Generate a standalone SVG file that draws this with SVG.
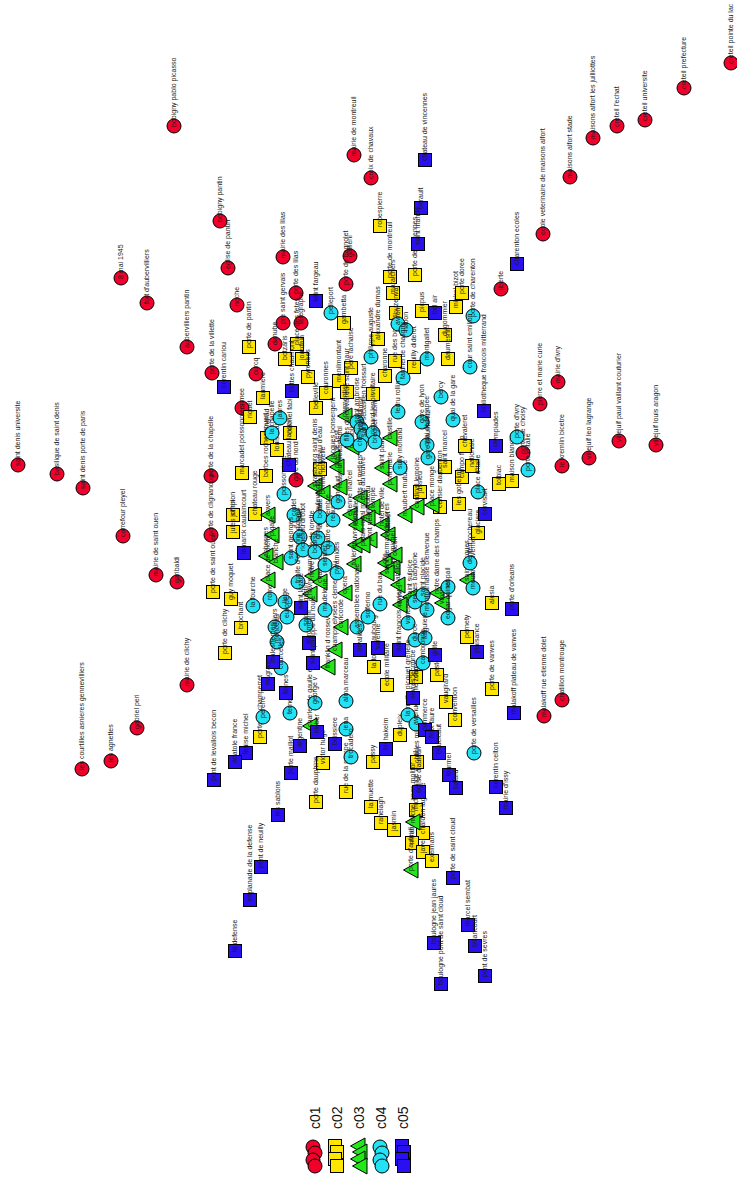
<svg xmlns="http://www.w3.org/2000/svg" xmlns:xlink="http://www.w3.org/1999/xlink" width="737" height="1182" viewBox="0 0 737 1182">
<style>
.r{fill:#f2002c}.y{fill:#ffe600}.g{fill:#22e81a}.c{fill:#22e2f4}.b{fill:#2a10f0}
use{stroke:#000;stroke-width:1}
text{fill:#1a1a1a;stroke:none;font-family:"Liberation Sans",Arial,sans-serif;font-size:7px}
.lg{font-size:14px;fill:#111}
</style>
<defs>
<circle id="C" r="7"/>
<rect id="S" x="-6.5" y="-6.5" width="13" height="13"/>
<path id="T" d="M-7.5,0L7,-8L7,8Z"/>
</defs>
<rect width="737" height="1182" fill="#fff"/>
<g id="connectors"/>
<g id="nodes">
<g id="r1" class="r" transform="translate(731,63)"><use href="#C"/><text transform="rotate(-90)" x="-1" y="2">creteil pointe du lac</text></g>
<g id="r2" class="r" transform="translate(684,88)"><use href="#C"/><text transform="rotate(-90)" x="-1" y="2">creteil prefecture</text></g>
<g id="r3" class="r" transform="translate(645,120)"><use href="#C"/><text transform="rotate(-90)" x="-1" y="2">creteil universite</text></g>
<g id="r4" class="r" transform="translate(617,126)"><use href="#C"/><text transform="rotate(-90)" x="-1" y="2">creteil l'echat</text></g>
<g id="r5" class="r" transform="translate(593,138)"><use href="#C"/><text transform="rotate(-90)" x="-1" y="2">maisons alfort les juilliottes</text></g>
<g id="r6" class="r" transform="translate(570,177)"><use href="#C"/><text transform="rotate(-90)" x="-1" y="2">maisons alfort stade</text></g>
<g id="r7" class="r" transform="translate(543,234)"><use href="#C"/><text transform="rotate(-90)" x="-1" y="2">ecole veterinaire de maisons alfort</text></g>
<g id="r8" class="r" transform="translate(501,289)"><use href="#C"/><text transform="rotate(-90)" x="-1" y="2">liberte</text></g>
<g id="r9" class="r" transform="translate(354,155)"><use href="#C"/><text transform="rotate(-90)" x="-1" y="2">mairie de montreuil</text></g>
<g id="r10" class="r" transform="translate(371,178)"><use href="#C"/><text transform="rotate(-90)" x="-1" y="2">croix de chavaux</text></g>
<g id="r11" class="r" transform="translate(174,126)"><use href="#C"/><text transform="rotate(-90)" x="-1" y="2">bobigny pablo picasso</text></g>
<g id="r12" class="r" transform="translate(220,221)"><use href="#C"/><text transform="rotate(-90)" x="-1" y="2">bobigny pantin</text></g>
<g id="r13" class="r" transform="translate(228,268)"><use href="#C"/><text transform="rotate(-90)" x="-1" y="2">eglise de pantin</text></g>
<g id="r14" class="r" transform="translate(121,278)"><use href="#C"/><text transform="rotate(-90)" x="-1" y="2">8 mai 1945</text></g>
<g id="r15" class="r" transform="translate(147,303)"><use href="#C"/><text transform="rotate(-90)" x="-1" y="2">fort d'aubervilliers</text></g>
<g id="r16" class="r" transform="translate(187,347)"><use href="#C"/><text transform="rotate(-90)" x="-1" y="2">aubervilliers pantin</text></g>
<g id="r17" class="r" transform="translate(237,305)"><use href="#C"/><text transform="rotate(-90)" x="-1" y="2">hoche</text></g>
<g id="r18" class="r" transform="translate(283,257)"><use href="#C"/><text transform="rotate(-90)" x="-1" y="2">mairie des lilas</text></g>
<g id="r19" class="r" transform="translate(296,293)"><use href="#C"/><text transform="rotate(-90)" x="-1" y="2">porte des lilas</text></g>
<g id="r20" class="r" transform="translate(283,323)"><use href="#C"/><text transform="rotate(-90)" x="-1" y="2">pre saint gervais</text></g>
<g id="r21" class="r" transform="translate(301,323)"><use href="#C"/><text transform="rotate(-90)" x="-1" y="2">telegraphe</text></g>
<g id="r22" class="r" transform="translate(350,256)"><use href="#C"/><text transform="rotate(-90)" x="-1" y="2">gallieni</text></g>
<g id="r23" class="r" transform="translate(346,284)"><use href="#C"/><text transform="rotate(-90)" x="-1" y="2">porte de bagnolet</text></g>
<g id="r24" class="r" transform="translate(275,344)"><use href="#C"/><text transform="rotate(-90)" x="-1" y="2">danube</text></g>
<g id="r25" class="r" transform="translate(212,373)"><use href="#C"/><text transform="rotate(-90)" x="-1" y="2">porte de la villette</text></g>
<g id="r26" class="r" transform="translate(256,374)"><use href="#C"/><text transform="rotate(-90)" x="-1" y="2">ourcq</text></g>
<g id="r27" class="r" transform="translate(242,408)"><use href="#C"/><text transform="rotate(-90)" x="-1" y="2">crimee</text></g>
<g id="r28" class="r" transform="translate(296,480)"><use href="#C"/><text transform="rotate(-90)" x="-1" y="2">gare du nord</text></g>
<g id="r29" class="r" transform="translate(211,476)"><use href="#C"/><text transform="rotate(-90)" x="-1" y="2">porte de la chapelle</text></g>
<g id="r30" class="r" transform="translate(211,535)"><use href="#C"/><text transform="rotate(-90)" x="-1" y="2">porte de clignancourt</text></g>
<g id="r31" class="r" transform="translate(156,575)"><use href="#C"/><text transform="rotate(-90)" x="-1" y="2">mairie de saint ouen</text></g>
<g id="r32" class="r" transform="translate(177,582)"><use href="#C"/><text transform="rotate(-90)" x="-1" y="2">garibaldi</text></g>
<g id="r33" class="r" transform="translate(123,536)"><use href="#C"/><text transform="rotate(-90)" x="-1" y="2">carrefour pleyel</text></g>
<g id="r34" class="r" transform="translate(83,488)"><use href="#C"/><text transform="rotate(-90)" x="-1" y="2">saint denis porte de paris</text></g>
<g id="r35" class="r" transform="translate(57,474)"><use href="#C"/><text transform="rotate(-90)" x="-1" y="2">basilique de saint denis</text></g>
<g id="r36" class="r" transform="translate(18,465)"><use href="#C"/><text transform="rotate(-90)" x="-1" y="2">saint denis universite</text></g>
<g id="r37" class="r" transform="translate(187,685)"><use href="#C"/><text transform="rotate(-90)" x="-1" y="2">mairie de clichy</text></g>
<g id="r38" class="r" transform="translate(137,728)"><use href="#C"/><text transform="rotate(-90)" x="-1" y="2">gabriel peri</text></g>
<g id="r39" class="r" transform="translate(111,761)"><use href="#C"/><text transform="rotate(-90)" x="-1" y="2">les agnettes</text></g>
<g id="r40" class="r" transform="translate(82,769)"><use href="#C"/><text transform="rotate(-90)" x="-1" y="2">les courtilles asnieres gennevilliers</text></g>
<g id="r41" class="r" transform="translate(544,716)"><use href="#C"/><text transform="rotate(-90)" x="-1" y="2">malakoff rue etienne dolet</text></g>
<g id="r42" class="r" transform="translate(562,700)"><use href="#C"/><text transform="rotate(-90)" x="-1" y="2">chatillon montrouge</text></g>
<g id="r43" class="r" transform="translate(523,453)"><use href="#C"/><text transform="rotate(-90)" x="-1" y="2">porte de choisy</text></g>
<g id="r44" class="r" transform="translate(540,404)"><use href="#C"/><text transform="rotate(-90)" x="-1" y="2">pierre et marie curie</text></g>
<g id="r45" class="r" transform="translate(558,382)"><use href="#C"/><text transform="rotate(-90)" x="-1" y="2">mairie d'ivry</text></g>
<g id="r46" class="r" transform="translate(562,466)"><use href="#C"/><text transform="rotate(-90)" x="-1" y="2">le kremlin bicetre</text></g>
<g id="r47" class="r" transform="translate(589,458)"><use href="#C"/><text transform="rotate(-90)" x="-1" y="2">villejuif leo lagrange</text></g>
<g id="r48" class="r" transform="translate(619,441)"><use href="#C"/><text transform="rotate(-90)" x="-1" y="2">villejuif paul vaillant couturier</text></g>
<g id="r49" class="r" transform="translate(656,445)"><use href="#C"/><text transform="rotate(-90)" x="-1" y="2">villejuif louis aragon</text></g>

<g id="y1" class="y" transform="translate(380,226)"><use href="#S"/><text transform="rotate(-90)" x="-1" y="2">robespierre</text></g>
<g id="y2" class="y" transform="translate(415,275)"><use href="#S"/><text transform="rotate(-90)" x="-1" y="2">porte de vincennes</text></g>
<g id="y3" class="y" transform="translate(390,277)"><use href="#S"/><text transform="rotate(-90)" x="-1" y="2">porte de montreuil</text></g>
<g id="y4" class="y" transform="translate(393,293)"><use href="#S"/><text transform="rotate(-90)" x="-1" y="2">maraichers</text></g>
<g id="y5" class="y" transform="translate(396,313)"><use href="#S"/><text transform="rotate(-90)" x="-1" y="2">buzenval</text></g>
<g id="y6" class="y" transform="translate(378,339)"><use href="#S"/><text transform="rotate(-90)" x="-1" y="2">alexandre dumas</text></g>
<g id="y7" class="y" transform="translate(395,361)"><use href="#S"/><text transform="rotate(-90)" x="-1" y="2">rue des boulets</text></g>
<g id="y8" class="y" transform="translate(385,376)"><use href="#S"/><text transform="rotate(-90)" x="-1" y="2">charonne</text></g>
<g id="y9" class="y" transform="translate(373,394)"><use href="#S"/><text transform="rotate(-90)" x="-1" y="2">voltaire</text></g>
<g id="y10" class="y" transform="translate(414,367)"><use href="#S"/><text transform="rotate(-90)" x="-1" y="2">reuilly diderot</text></g>
<g id="y11" class="y" transform="translate(422,311)"><use href="#S"/><text transform="rotate(-90)" x="-1" y="2">picpus</text></g>
<g id="y12" class="y" transform="translate(445,335)"><use href="#S"/><text transform="rotate(-90)" x="-1" y="2">dugommier</text></g>
<g id="y13" class="y" transform="translate(448,359)"><use href="#S"/><text transform="rotate(-90)" x="-1" y="2">daumesnil</text></g>
<g id="y14" class="y" transform="translate(456,307)"><use href="#S"/><text transform="rotate(-90)" x="-1" y="2">michel bizot</text></g>
<g id="y15" class="y" transform="translate(462,293)"><use href="#S"/><text transform="rotate(-90)" x="-1" y="2">porte doree</text></g>
<g id="y16" class="y" transform="translate(344,323)"><use href="#S"/><text transform="rotate(-90)" x="-1" y="2">gambetta</text></g>
<g id="y17" class="y" transform="translate(249,347)"><use href="#S"/><text transform="rotate(-90)" x="-1" y="2">porte de pantin</text></g>
<g id="y18" class="y" transform="translate(285,359)"><use href="#S"/><text transform="rotate(-90)" x="-1" y="2">botzaris</text></g>
<g id="y19" class="y" transform="translate(297,344)"><use href="#S"/><text transform="rotate(-90)" x="-1" y="2">place des fetes</text></g>
<g id="y20" class="y" transform="translate(302,359)"><use href="#S"/><text transform="rotate(-90)" x="-1" y="2">jourdain</text></g>
<g id="y21" class="y" transform="translate(308,377)"><use href="#S"/><text transform="rotate(-90)" x="-1" y="2">pyrenees</text></g>
<g id="y22" class="y" transform="translate(263,398)"><use href="#S"/><text transform="rotate(-90)" x="-1" y="2">laumiere</text></g>
<g id="y23" class="y" transform="translate(326,393)"><use href="#S"/><text transform="rotate(-90)" x="-1" y="2">couronnes</text></g>
<g id="y24" class="y" transform="translate(339,381)"><use href="#S"/><text transform="rotate(-90)" x="-1" y="2">menilmontant</text></g>
<g id="y25" class="y" transform="translate(351,368)"><use href="#S"/><text transform="rotate(-90)" x="-1" y="2">pere lachaise</text></g>
<g id="y26" class="y" transform="translate(347,392)"><use href="#S"/><text transform="rotate(-90)" x="-1" y="2">rue saint maur</text></g>
<g id="y27" class="y" transform="translate(316,408)"><use href="#S"/><text transform="rotate(-90)" x="-1" y="2">belleville</text></g>
<g id="y28" class="y" transform="translate(250,417)"><use href="#S"/><text transform="rotate(-90)" x="-1" y="2">riquet</text></g>
<g id="y29" class="y" transform="translate(267,438)"><use href="#S"/><text transform="rotate(-90)" x="-1" y="2">stalingrad</text></g>
<g id="y30" class="y" transform="translate(290,433)"><use href="#S"/><text transform="rotate(-90)" x="-1" y="2">colonel fabien</text></g>
<g id="y31" class="y" transform="translate(277,450)"><use href="#S"/><text transform="rotate(-90)" x="-1" y="2">louis blanc</text></g>
<g id="y32" class="y" transform="translate(320,469)"><use href="#S"/><text transform="rotate(-90)" x="-1" y="2">chateau d'eau</text></g>
<g id="y33" class="y" transform="translate(242,473)"><use href="#S"/><text transform="rotate(-90)" x="-1" y="2">marcadet poissonniers</text></g>
<g id="y34" class="y" transform="translate(266,476)"><use href="#S"/><text transform="rotate(-90)" x="-1" y="2">barbes rochechouart</text></g>
<g id="y35" class="y" transform="translate(233,515)"><use href="#S"/><text transform="rotate(-90)" x="-1" y="2">simplon</text></g>
<g id="y36" class="y" transform="translate(233,532)"><use href="#S"/><text transform="rotate(-90)" x="-1" y="2">jules joffrin</text></g>
<g id="y37" class="y" transform="translate(255,514)"><use href="#S"/><text transform="rotate(-90)" x="-1" y="2">chateau rouge</text></g>
<g id="y38" class="y" transform="translate(213,592)"><use href="#S"/><text transform="rotate(-90)" x="-1" y="2">porte de saint ouen</text></g>
<g id="y39" class="y" transform="translate(231,599)"><use href="#S"/><text transform="rotate(-90)" x="-1" y="2">guy moquet</text></g>
<g id="y40" class="y" transform="translate(241,628)"><use href="#S"/><text transform="rotate(-90)" x="-1" y="2">brochant</text></g>
<g id="y41" class="y" transform="translate(225,653)"><use href="#S"/><text transform="rotate(-90)" x="-1" y="2">porte de clichy</text></g>
<g id="y42" class="y" transform="translate(260,737)"><use href="#S"/><text transform="rotate(-90)" x="-1" y="2">porte de champerret</text></g>
<g id="y43" class="y" transform="translate(323,763)"><use href="#S"/><text transform="rotate(-90)" x="-1" y="2">victor hugo</text></g>
<g id="y44" class="y" transform="translate(316,802)"><use href="#S"/><text transform="rotate(-90)" x="-1" y="2">porte dauphine</text></g>
<g id="y45" class="y" transform="translate(346,792)"><use href="#S"/><text transform="rotate(-90)" x="-1" y="2">rue de la pompe</text></g>
<g id="y46" class="y" transform="translate(371,807)"><use href="#S"/><text transform="rotate(-90)" x="-1" y="2">la muette</text></g>
<g id="y47" class="y" transform="translate(381,823)"><use href="#S"/><text transform="rotate(-90)" x="-1" y="2">ranelagh</text></g>
<g id="y48" class="y" transform="translate(394,830)"><use href="#S"/><text transform="rotate(-90)" x="-1" y="2">jasmin</text></g>
<g id="y49" class="y" transform="translate(416,810)"><use href="#S"/><text transform="rotate(-90)" x="-1" y="2">michel ange auteuil</text></g>
<g id="y50" class="y" transform="translate(423,833)"><use href="#S"/><text transform="rotate(-90)" x="-1" y="2">chardon lagache</text></g>
<g id="y51" class="y" transform="translate(412,843)"><use href="#S"/><text transform="rotate(-90)" x="-1" y="2">mirabeau</text></g>
<g id="y52" class="y" transform="translate(423,852)"><use href="#S"/><text transform="rotate(-90)" x="-1" y="2">javel</text></g>
<g id="y53" class="y" transform="translate(432,861)"><use href="#S"/><text transform="rotate(-90)" x="-1" y="2">exelmans</text></g>
<g id="y54" class="y" transform="translate(373,762)"><use href="#S"/><text transform="rotate(-90)" x="-1" y="2">passy</text></g>
<g id="y55" class="y" transform="translate(400,735)"><use href="#S"/><text transform="rotate(-90)" x="-1" y="2">dupleix</text></g>
<g id="y56" class="y" transform="translate(417,762)"><use href="#S"/><text transform="rotate(-90)" x="-1" y="2">charles michels</text></g>
<g id="y57" class="y" transform="translate(374,667)"><use href="#S"/><text transform="rotate(-90)" x="-1" y="2">la tour maubourg</text></g>
<g id="y58" class="y" transform="translate(387,685)"><use href="#S"/><text transform="rotate(-90)" x="-1" y="2">ecole militaire</text></g>
<g id="y59" class="y" transform="translate(416,677)"><use href="#S"/><text transform="rotate(-90)" x="-1" y="2">segur</text></g>
<g id="y60" class="y" transform="translate(437,675)"><use href="#S"/><text transform="rotate(-90)" x="-1" y="2">pasteur</text></g>
<g id="y61" class="y" transform="translate(446,702)"><use href="#S"/><text transform="rotate(-90)" x="-1" y="2">vaugirard</text></g>
<g id="y62" class="y" transform="translate(455,720)"><use href="#S"/><text transform="rotate(-90)" x="-1" y="2">convention</text></g>
<g id="y63" class="y" transform="translate(467,637)"><use href="#S"/><text transform="rotate(-90)" x="-1" y="2">pernety</text></g>
<g id="y64" class="y" transform="translate(492,603)"><use href="#S"/><text transform="rotate(-90)" x="-1" y="2">alesia</text></g>
<g id="y65" class="y" transform="translate(492,689)"><use href="#S"/><text transform="rotate(-90)" x="-1" y="2">porte de vanves</text></g>
<g id="y66" class="y" transform="translate(478,533)"><use href="#S"/><text transform="rotate(-90)" x="-1" y="2">glaciere</text></g>
<g id="y67" class="y" transform="translate(445,467)"><use href="#S"/><text transform="rotate(-90)" x="-1" y="2">saint marcel</text></g>
<g id="y68" class="y" transform="translate(462,477)"><use href="#S"/><text transform="rotate(-90)" x="-1" y="2">campo formio</text></g>
<g id="y69" class="y" transform="translate(465,446)"><use href="#S"/><text transform="rotate(-90)" x="-1" y="2">chevaleret</text></g>
<g id="y70" class="y" transform="translate(472,466)"><use href="#S"/><text transform="rotate(-90)" x="-1" y="2">nationale</text></g>
<g id="y71" class="y" transform="translate(499,484)"><use href="#S"/><text transform="rotate(-90)" x="-1" y="2">tolbiac</text></g>
<g id="y72" class="y" transform="translate(512,481)"><use href="#S"/><text transform="rotate(-90)" x="-1" y="2">maison blanche</text></g>
<g id="y73" class="y" transform="translate(420,492)"><use href="#S"/><text transform="rotate(-90)" x="-1" y="2">jussieu</text></g>
<g id="y74" class="y" transform="translate(440,507)"><use href="#S"/><text transform="rotate(-90)" x="-1" y="2">censier daubenton</text></g>
<g id="y75" class="y" transform="translate(459,504)"><use href="#S"/><text transform="rotate(-90)" x="-1" y="2">les gobelins</text></g>

<g id="g1" class="g" transform="translate(268,515)"><use href="#T"/><text transform="rotate(-90)" x="-1" y="2">anvers</text></g>
<g id="g2" class="g" transform="translate(272,535)"><use href="#T"/><text transform="rotate(-90)" x="-1" y="2">pigalle</text></g>
<g id="g3" class="g" transform="translate(266,556)"><use href="#T"/><text transform="rotate(-90)" x="-1" y="2">abbesses</text></g>
<g id="g4" class="g" transform="translate(276,562)"><use href="#T"/><text transform="rotate(-90)" x="-1" y="2">blanche</text></g>
<g id="g5" class="g" transform="translate(268,580)"><use href="#T"/><text transform="rotate(-90)" x="-1" y="2">place de clichy</text></g>
<g id="g6" class="g" transform="translate(312,576)"><use href="#T"/><text transform="rotate(-90)" x="-1" y="2">notre dame de lorette</text></g>
<g id="g7" class="g" transform="translate(320,582)"><use href="#T"/><text transform="rotate(-90)" x="-1" y="2">chaussee d'antin lafayette</text></g>
<g id="g8" class="g" transform="translate(310,594)"><use href="#T"/><text transform="rotate(-90)" x="-1" y="2">havre caumartin</text></g>
<g id="g9" class="g" transform="translate(345,593)"><use href="#T"/><text transform="rotate(-90)" x="-1" y="2">opera</text></g>
<g id="g10" class="g" transform="translate(341,627)"><use href="#T"/><text transform="rotate(-90)" x="-1" y="2">concorde</text></g>
<g id="g11" class="g" transform="translate(335,650)"><use href="#T"/><text transform="rotate(-90)" x="-1" y="2">champs elysees clemenceau</text></g>
<g id="g12" class="g" transform="translate(328,667)"><use href="#T"/><text transform="rotate(-90)" x="-1" y="2">franklin d roosevelt</text></g>
<g id="g13" class="g" transform="translate(310,726)"><use href="#T"/><text transform="rotate(-90)" x="-1" y="2">charles de gaulle etoile</text></g>
<g id="g14" class="g" transform="translate(345,416)"><use href="#T"/><text transform="rotate(-90)" x="-1" y="2">parmentier</text></g>
<g id="g15" class="g" transform="translate(352,447)"><use href="#T"/><text transform="rotate(-90)" x="-1" y="2">republique</text></g>
<g id="g16" class="g" transform="translate(333,458)"><use href="#T"/><text transform="rotate(-90)" x="-1" y="2">jacques bonsergent</text></g>
<g id="g17" class="g" transform="translate(337,467)"><use href="#T"/><text transform="rotate(-90)" x="-1" y="2">gare de l'est</text></g>
<g id="g18" class="g" transform="translate(315,486)"><use href="#T"/><text transform="rotate(-90)" x="-1" y="2">strasbourg saint denis</text></g>
<g id="g19" class="g" transform="translate(323,493)"><use href="#T"/><text transform="rotate(-90)" x="-1" y="2">bonne nouvelle</text></g>
<g id="g20" class="g" transform="translate(340,487)"><use href="#T"/><text transform="rotate(-90)" x="-1" y="2">reaumur sebastopol</text></g>
<g id="g21" class="g" transform="translate(360,498)"><use href="#T"/><text transform="rotate(-90)" x="-1" y="2">arts et metiers</text></g>
<g id="g22" class="g" transform="translate(373,507)"><use href="#T"/><text transform="rotate(-90)" x="-1" y="2">temple</text></g>
<g id="g23" class="g" transform="translate(350,515)"><use href="#T"/><text transform="rotate(-90)" x="-1" y="2">etienne marcel</text></g>
<g id="g24" class="g" transform="translate(356,525)"><use href="#T"/><text transform="rotate(-90)" x="-1" y="2">les halles</text></g>
<g id="g25" class="g" transform="translate(368,518)"><use href="#T"/><text transform="rotate(-90)" x="-1" y="2">rambuteau</text></g>
<g id="g26" class="g" transform="translate(382,525)"><use href="#T"/><text transform="rotate(-90)" x="-1" y="2">hotel de ville</text></g>
<g id="g27" class="g" transform="translate(388,535)"><use href="#T"/><text transform="rotate(-90)" x="-1" y="2">chatelet</text></g>
<g id="g28" class="g" transform="translate(370,540)"><use href="#T"/><text transform="rotate(-90)" x="-1" y="2">pont neuf</text></g>
<g id="g29" class="g" transform="translate(355,545)"><use href="#T"/><text transform="rotate(-90)" x="-1" y="2">louvre rivoli</text></g>
<g id="g30" class="g" transform="translate(363,545)"><use href="#T"/><text transform="rotate(-90)" x="-1" y="2">palais royal musee du louvre</text></g>
<g id="g31" class="g" transform="translate(354,564)"><use href="#T"/><text transform="rotate(-90)" x="-1" y="2">tuileries</text></g>
<g id="g32" class="g" transform="translate(385,563)"><use href="#T"/><text transform="rotate(-90)" x="-1" y="2">cite</text></g>
<g id="g33" class="g" transform="translate(393,567)"><use href="#T"/><text transform="rotate(-90)" x="-1" y="2">saint michel</text></g>
<g id="g34" class="g" transform="translate(395,555)"><use href="#T"/><text transform="rotate(-90)" x="-1" y="2">odeon</text></g>
<g id="g35" class="g" transform="translate(387,573)"><use href="#T"/><text transform="rotate(-90)" x="-1" y="2">saint germain des pres</text></g>
<g id="g36" class="g" transform="translate(398,585)"><use href="#T"/><text transform="rotate(-90)" x="-1" y="2">mabillon</text></g>
<g id="g37" class="g" transform="translate(410,597)"><use href="#T"/><text transform="rotate(-90)" x="-1" y="2">saint sulpice</text></g>
<g id="g38" class="g" transform="translate(400,605)"><use href="#T"/><text transform="rotate(-90)" x="-1" y="2">rennes</text></g>
<g id="g39" class="g" transform="translate(437,593)"><use href="#T"/><text transform="rotate(-90)" x="-1" y="2">notre dame des champs</text></g>
<g id="g40" class="g" transform="translate(442,603)"><use href="#T"/><text transform="rotate(-90)" x="-1" y="2">vavin</text></g>
<g id="g41" class="g" transform="translate(467,580)"><use href="#T"/><text transform="rotate(-90)" x="-1" y="2">saint jacques</text></g>
<g id="g42" class="g" transform="translate(390,438)"><use href="#T"/><text transform="rotate(-90)" x="-1" y="2">bastille</text></g>
<g id="g43" class="g" transform="translate(382,468)"><use href="#T"/><text transform="rotate(-90)" x="-1" y="2">saint paul</text></g>
<g id="g44" class="g" transform="translate(390,484)"><use href="#T"/><text transform="rotate(-90)" x="-1" y="2">pont marie</text></g>
<g id="g45" class="g" transform="translate(405,515)"><use href="#T"/><text transform="rotate(-90)" x="-1" y="2">maubert mutualite</text></g>
<g id="g46" class="g" transform="translate(417,507)"><use href="#T"/><text transform="rotate(-90)" x="-1" y="2">cardinal lemoine</text></g>
<g id="g47" class="g" transform="translate(432,505)"><use href="#T"/><text transform="rotate(-90)" x="-1" y="2">place monge</text></g>
<g id="g48" class="g" transform="translate(413,822)"><use href="#T"/><text transform="rotate(-90)" x="-1" y="2">michel ange molitor</text></g>
<g id="g49" class="g" transform="translate(411,870)"><use href="#T"/><text transform="rotate(-90)" x="-1" y="2">porte d'auteuil</text></g>

<g id="c1" class="c" transform="translate(331,313)"><use href="#C"/><text transform="rotate(-90)" x="-1" y="2">pelleport</text></g>
<g id="c2" class="c" transform="translate(371,357)"><use href="#C"/><text transform="rotate(-90)" x="-1" y="2">philippe auguste</text></g>
<g id="c3" class="c" transform="translate(398,324)"><use href="#C"/><text transform="rotate(-90)" x="-1" y="2">avron</text></g>
<g id="c4" class="c" transform="translate(406,330)"><use href="#C"/><text transform="rotate(-90)" x="-1" y="2">nation</text></g>
<g id="c5" class="c" transform="translate(403,378)"><use href="#C"/><text transform="rotate(-90)" x="-1" y="2">faidherbe chaligny</text></g>
<g id="c6" class="c" transform="translate(427,359)"><use href="#C"/><text transform="rotate(-90)" x="-1" y="2">montgallet</text></g>
<g id="c7" class="c" transform="translate(473,316)"><use href="#C"/><text transform="rotate(-90)" x="-1" y="2">porte de charenton</text></g>
<g id="c8" class="c" transform="translate(470,367)"><use href="#C"/><text transform="rotate(-90)" x="-1" y="2">cour saint emilion</text></g>
<g id="c9" class="c" transform="translate(441,397)"><use href="#C"/><text transform="rotate(-90)" x="-1" y="2">bercy</text></g>
<g id="c10" class="c" transform="translate(398,412)"><use href="#C"/><text transform="rotate(-90)" x="-1" y="2">ledru rollin</text></g>
<g id="c11" class="c" transform="translate(422,422)"><use href="#C"/><text transform="rotate(-90)" x="-1" y="2">gare de lyon</text></g>
<g id="c12" class="c" transform="translate(453,420)"><use href="#C"/><text transform="rotate(-90)" x="-1" y="2">quai de la gare</text></g>
<g id="c13" class="c" transform="translate(517,437)"><use href="#C"/><text transform="rotate(-90)" x="-1" y="2">porte d'ivry</text></g>
<g id="c14" class="c" transform="translate(528,470)"><use href="#C"/><text transform="rotate(-90)" x="-1" y="2">porte d'italie</text></g>
<g id="c15" class="c" transform="translate(427,445)"><use href="#C"/><text transform="rotate(-90)" x="-1" y="2">quai de la rapee</text></g>
<g id="c16" class="c" transform="translate(428,458)"><use href="#C"/><text transform="rotate(-90)" x="-1" y="2">gare d'austerlitz</text></g>
<g id="c17" class="c" transform="translate(400,468)"><use href="#C"/><text transform="rotate(-90)" x="-1" y="2">sully morland</text></g>
<g id="c18" class="c" transform="translate(478,492)"><use href="#C"/><text transform="rotate(-90)" x="-1" y="2">place d'italie</text></g>
<g id="c19" class="c" transform="translate(280,418)"><use href="#C"/><text transform="rotate(-90)" x="-1" y="2">jaures</text></g>
<g id="c20" class="c" transform="translate(272,433)"><use href="#C"/><text transform="rotate(-90)" x="-1" y="2">la chapelle</text></g>
<g id="c21" class="c" transform="translate(357,422)"><use href="#C"/><text transform="rotate(-90)" x="-1" y="2">saint ambroise</text></g>
<g id="c22" class="c" transform="translate(361,429)"><use href="#C"/><text transform="rotate(-90)" x="-1" y="2">oberkampf</text></g>
<g id="c23" class="c" transform="translate(364,436)"><use href="#C"/><text transform="rotate(-90)" x="-1" y="2">saint sebastien froissart</text></g>
<g id="c24" class="c" transform="translate(347,440)"><use href="#C"/><text transform="rotate(-90)" x="-1" y="2">filles du calvaire</text></g>
<g id="c25" class="c" transform="translate(360,445)"><use href="#C"/><text transform="rotate(-90)" x="-1" y="2">chemin vert</text></g>
<g id="c26" class="c" transform="translate(373,433)"><use href="#C"/><text transform="rotate(-90)" x="-1" y="2">richard lenoir</text></g>
<g id="c27" class="c" transform="translate(375,442)"><use href="#C"/><text transform="rotate(-90)" x="-1" y="2">breguet sabin</text></g>
<g id="c28" class="c" transform="translate(284,494)"><use href="#C"/><text transform="rotate(-90)" x="-1" y="2">poissonniere</text></g>
<g id="c29" class="c" transform="translate(294,515)"><use href="#C"/><text transform="rotate(-90)" x="-1" y="2">cadet</text></g>
<g id="c30" class="c" transform="translate(300,537)"><use href="#C"/><text transform="rotate(-90)" x="-1" y="2">le peletier</text></g>
<g id="c31" class="c" transform="translate(291,558)"><use href="#C"/><text transform="rotate(-90)" x="-1" y="2">saint georges</text></g>
<g id="c32" class="c" transform="translate(298,582)"><use href="#C"/><text transform="rotate(-90)" x="-1" y="2">trinite d'estienne d'orves</text></g>
<g id="c33" class="c" transform="translate(318,538)"><use href="#C"/><text transform="rotate(-90)" x="-1" y="2">grands boulevards</text></g>
<g id="c34" class="c" transform="translate(303,550)"><use href="#C"/><text transform="rotate(-90)" x="-1" y="2">richelieu drouot</text></g>
<g id="c35" class="c" transform="translate(315,552)"><use href="#C"/><text transform="rotate(-90)" x="-1" y="2">bourse</text></g>
<g id="c36" class="c" transform="translate(328,548)"><use href="#C"/><text transform="rotate(-90)" x="-1" y="2">quatre septembre</text></g>
<g id="c37" class="c" transform="translate(325,565)"><use href="#C"/><text transform="rotate(-90)" x="-1" y="2">sentier</text></g>
<g id="c38" class="c" transform="translate(337,573)"><use href="#C"/><text transform="rotate(-90)" x="-1" y="2">pyramides</text></g>
<g id="c39" class="c" transform="translate(320,517)"><use href="#C"/><text transform="rotate(-90)" x="-1" y="2">bonne nouvelle</text></g>
<g id="c40" class="c" transform="translate(333,520)"><use href="#C"/><text transform="rotate(-90)" x="-1" y="2">reaumur</text></g>
<g id="c41" class="c" transform="translate(338,502)"><use href="#C"/><text transform="rotate(-90)" x="-1" y="2">goncourt</text></g>
<g id="c42" class="c" transform="translate(253,606)"><use href="#C"/><text transform="rotate(-90)" x="-1" y="2">la fourche</text></g>
<g id="c43" class="c" transform="translate(270,599)"><use href="#C"/><text transform="rotate(-90)" x="-1" y="2">rome</text></g>
<g id="c44" class="c" transform="translate(285,602)"><use href="#C"/><text transform="rotate(-90)" x="-1" y="2">liege</text></g>
<g id="c45" class="c" transform="translate(287,617)"><use href="#C"/><text transform="rotate(-90)" x="-1" y="2">europe</text></g>
<g id="c46" class="c" transform="translate(275,627)"><use href="#C"/><text transform="rotate(-90)" x="-1" y="2">villiers</text></g>
<g id="c47" class="c" transform="translate(277,642)"><use href="#C"/><text transform="rotate(-90)" x="-1" y="2">monceau</text></g>
<g id="c48" class="c" transform="translate(306,625)"><use href="#C"/><text transform="rotate(-90)" x="-1" y="2">saint augustin</text></g>
<g id="c49" class="c" transform="translate(325,610)"><use href="#C"/><text transform="rotate(-90)" x="-1" y="2">madeleine</text></g>
<g id="c50" class="c" transform="translate(281,668)"><use href="#C"/><text transform="rotate(-90)" x="-1" y="2">courcelles</text></g>
<g id="c51" class="c" transform="translate(315,703)"><use href="#C"/><text transform="rotate(-90)" x="-1" y="2">george v</text></g>
<g id="c52" class="c" transform="translate(290,713)"><use href="#C"/><text transform="rotate(-90)" x="-1" y="2">ternes</text></g>
<g id="c53" class="c" transform="translate(263,717)"><use href="#C"/><text transform="rotate(-90)" x="-1" y="2">pereire</text></g>
<g id="c54" class="c" transform="translate(346,701)"><use href="#C"/><text transform="rotate(-90)" x="-1" y="2">alma marceau</text></g>
<g id="c55" class="c" transform="translate(346,729)"><use href="#C"/><text transform="rotate(-90)" x="-1" y="2">iena</text></g>
<g id="c56" class="c" transform="translate(351,757)"><use href="#C"/><text transform="rotate(-90)" x="-1" y="2">trocadero</text></g>
<g id="c57" class="c" transform="translate(357,627)"><use href="#C"/><text transform="rotate(-90)" x="-1" y="2">assemblee nationale</text></g>
<g id="c58" class="c" transform="translate(368,617)"><use href="#C"/><text transform="rotate(-90)" x="-1" y="2">solferino</text></g>
<g id="c59" class="c" transform="translate(380,604)"><use href="#C"/><text transform="rotate(-90)" x="-1" y="2">rue du bac</text></g>
<g id="c60" class="c" transform="translate(408,623)"><use href="#C"/><text transform="rotate(-90)" x="-1" y="2">vaneau</text></g>
<g id="c61" class="c" transform="translate(415,602)"><use href="#C"/><text transform="rotate(-90)" x="-1" y="2">sevres babylone</text></g>
<g id="c62" class="c" transform="translate(423,595)"><use href="#C"/><text transform="rotate(-90)" x="-1" y="2">saint placide</text></g>
<g id="c63" class="c" transform="translate(427,610)"><use href="#C"/><text transform="rotate(-90)" x="-1" y="2">montparnasse bienvenue</text></g>
<g id="c64" class="c" transform="translate(448,587)"><use href="#C"/><text transform="rotate(-90)" x="-1" y="2">raspail</text></g>
<g id="c65" class="c" transform="translate(448,618)"><use href="#C"/><text transform="rotate(-90)" x="-1" y="2">edgar quinet</text></g>
<g id="c66" class="c" transform="translate(473,588)"><use href="#C"/><text transform="rotate(-90)" x="-1" y="2">mouton duvernet</text></g>
<g id="c67" class="c" transform="translate(470,563)"><use href="#C"/><text transform="rotate(-90)" x="-1" y="2">denfert rochereau</text></g>
<g id="c68" class="c" transform="translate(415,640)"><use href="#C"/><text transform="rotate(-90)" x="-1" y="2">duroc</text></g>
<g id="c69" class="c" transform="translate(425,638)"><use href="#C"/><text transform="rotate(-90)" x="-1" y="2">falguiere</text></g>
<g id="c70" class="c" transform="translate(423,663)"><use href="#C"/><text transform="rotate(-90)" x="-1" y="2">cambronne</text></g>
<g id="c71" class="c" transform="translate(408,715)"><use href="#C"/><text transform="rotate(-90)" x="-1" y="2">la motte picquet grenelle</text></g>
<g id="c72" class="c" transform="translate(416,724)"><use href="#C"/><text transform="rotate(-90)" x="-1" y="2">avenue emile zola</text></g>
<g id="c73" class="c" transform="translate(474,753)"><use href="#C"/><text transform="rotate(-90)" x="-1" y="2">porte de versailles</text></g>

<g id="b1" class="b" transform="translate(425,160)"><use href="#S"/><text transform="rotate(-90)" x="-1" y="2">chateau de vincennes</text></g>
<g id="b2" class="b" transform="translate(421,208)"><use href="#S"/><text transform="rotate(-90)" x="-1" y="2">berault</text></g>
<g id="b3" class="b" transform="translate(418,244)"><use href="#S"/><text transform="rotate(-90)" x="-1" y="2">saint mande</text></g>
<g id="b4" class="b" transform="translate(517,264)"><use href="#S"/><text transform="rotate(-90)" x="-1" y="2">charenton ecoles</text></g>
<g id="b5" class="b" transform="translate(435,313)"><use href="#S"/><text transform="rotate(-90)" x="-1" y="2">bel air</text></g>
<g id="b6" class="b" transform="translate(316,301)"><use href="#S"/><text transform="rotate(-90)" x="-1" y="2">saint fargeau</text></g>
<g id="b7" class="b" transform="translate(224,387)"><use href="#S"/><text transform="rotate(-90)" x="-1" y="2">corentin cariou</text></g>
<g id="b8" class="b" transform="translate(292,391)"><use href="#S"/><text transform="rotate(-90)" x="-1" y="2">buttes chaumont</text></g>
<g id="b9" class="b" transform="translate(289,465)"><use href="#S"/><text transform="rotate(-90)" x="-1" y="2">chateau landon</text></g>
<g id="b10" class="b" transform="translate(484,411)"><use href="#S"/><text transform="rotate(-90)" x="-1" y="2">bibliotheque francois mitterrand</text></g>
<g id="b11" class="b" transform="translate(496,446)"><use href="#S"/><text transform="rotate(-90)" x="-1" y="2">olympiades</text></g>
<g id="b12" class="b" transform="translate(485,514)"><use href="#S"/><text transform="rotate(-90)" x="-1" y="2">corvisart</text></g>
<g id="b13" class="b" transform="translate(512,609)"><use href="#S"/><text transform="rotate(-90)" x="-1" y="2">porte d'orleans</text></g>
<g id="b14" class="b" transform="translate(514,713)"><use href="#S"/><text transform="rotate(-90)" x="-1" y="2">malakoff plateau de vanves</text></g>
<g id="b15" class="b" transform="translate(477,652)"><use href="#S"/><text transform="rotate(-90)" x="-1" y="2">plaisance</text></g>
<g id="b16" class="b" transform="translate(435,655)"><use href="#S"/><text transform="rotate(-90)" x="-1" y="2">gaite</text></g>
<g id="b17" class="b" transform="translate(360,650)"><use href="#S"/><text transform="rotate(-90)" x="-1" y="2">invalides</text></g>
<g id="b18" class="b" transform="translate(378,648)"><use href="#S"/><text transform="rotate(-90)" x="-1" y="2">varenne</text></g>
<g id="b19" class="b" transform="translate(399,650)"><use href="#S"/><text transform="rotate(-90)" x="-1" y="2">saint francois xavier</text></g>
<g id="b20" class="b" transform="translate(413,698)"><use href="#S"/><text transform="rotate(-90)" x="-1" y="2">sevres lecourbe</text></g>
<g id="b21" class="b" transform="translate(425,730)"><use href="#S"/><text transform="rotate(-90)" x="-1" y="2">commerce</text></g>
<g id="b22" class="b" transform="translate(432,737)"><use href="#S"/><text transform="rotate(-90)" x="-1" y="2">felix faure</text></g>
<g id="b23" class="b" transform="translate(386,749)"><use href="#S"/><text transform="rotate(-90)" x="-1" y="2">bir hakeim</text></g>
<g id="b24" class="b" transform="translate(439,753)"><use href="#S"/><text transform="rotate(-90)" x="-1" y="2">boucicaut</text></g>
<g id="b25" class="b" transform="translate(449,775)"><use href="#S"/><text transform="rotate(-90)" x="-1" y="2">lourmel</text></g>
<g id="b26" class="b" transform="translate(456,788)"><use href="#S"/><text transform="rotate(-90)" x="-1" y="2">balard</text></g>
<g id="b27" class="b" transform="translate(496,787)"><use href="#S"/><text transform="rotate(-90)" x="-1" y="2">corentin celton</text></g>
<g id="b28" class="b" transform="translate(506,808)"><use href="#S"/><text transform="rotate(-90)" x="-1" y="2">mairie d'issy</text></g>
<g id="b29" class="b" transform="translate(419,792)"><use href="#S"/><text transform="rotate(-90)" x="-1" y="2">eglise d'auteuil</text></g>
<g id="b30" class="b" transform="translate(453,878)"><use href="#S"/><text transform="rotate(-90)" x="-1" y="2">porte de saint cloud</text></g>
<g id="b31" class="b" transform="translate(468,925)"><use href="#S"/><text transform="rotate(-90)" x="-1" y="2">marcel sembat</text></g>
<g id="b32" class="b" transform="translate(475,946)"><use href="#S"/><text transform="rotate(-90)" x="-1" y="2">billancourt</text></g>
<g id="b33" class="b" transform="translate(485,976)"><use href="#S"/><text transform="rotate(-90)" x="-1" y="2">pont de sevres</text></g>
<g id="b34" class="b" transform="translate(434,943)"><use href="#S"/><text transform="rotate(-90)" x="-1" y="2">boulogne jean jaures</text></g>
<g id="b35" class="b" transform="translate(441,984)"><use href="#S"/><text transform="rotate(-90)" x="-1" y="2">boulogne pont de saint cloud</text></g>
<g id="b36" class="b" transform="translate(244,553)"><use href="#S"/><text transform="rotate(-90)" x="-1" y="2">lamarck caulaincourt</text></g>
<g id="b37" class="b" transform="translate(301,608)"><use href="#S"/><text transform="rotate(-90)" x="-1" y="2">saint lazare</text></g>
<g id="b38" class="b" transform="translate(309,643)"><use href="#S"/><text transform="rotate(-90)" x="-1" y="2">miromesnil</text></g>
<g id="b39" class="b" transform="translate(313,663)"><use href="#S"/><text transform="rotate(-90)" x="-1" y="2">saint philippe du roule</text></g>
<g id="b40" class="b" transform="translate(273,662)"><use href="#S"/><text transform="rotate(-90)" x="-1" y="2">malesherbes</text></g>
<g id="b41" class="b" transform="translate(268,684)"><use href="#S"/><text transform="rotate(-90)" x="-1" y="2">wagram</text></g>
<g id="b42" class="b" transform="translate(286,693)"><use href="#S"/><text transform="rotate(-90)" x="-1" y="2">ternes</text></g>
<g id="b43" class="b" transform="translate(317,732)"><use href="#S"/><text transform="rotate(-90)" x="-1" y="2">kleber</text></g>
<g id="b44" class="b" transform="translate(300,746)"><use href="#S"/><text transform="rotate(-90)" x="-1" y="2">argentine</text></g>
<g id="b45" class="b" transform="translate(335,744)"><use href="#S"/><text transform="rotate(-90)" x="-1" y="2">boissiere</text></g>
<g id="b46" class="b" transform="translate(291,773)"><use href="#S"/><text transform="rotate(-90)" x="-1" y="2">porte maillot</text></g>
<g id="b47" class="b" transform="translate(246,753)"><use href="#S"/><text transform="rotate(-90)" x="-1" y="2">louise michel</text></g>
<g id="b48" class="b" transform="translate(235,762)"><use href="#S"/><text transform="rotate(-90)" x="-1" y="2">anatole france</text></g>
<g id="b49" class="b" transform="translate(214,780)"><use href="#S"/><text transform="rotate(-90)" x="-1" y="2">pont de levallois becon</text></g>
<g id="b50" class="b" transform="translate(278,815)"><use href="#S"/><text transform="rotate(-90)" x="-1" y="2">les sablons</text></g>
<g id="b51" class="b" transform="translate(261,867)"><use href="#S"/><text transform="rotate(-90)" x="-1" y="2">pont de neuilly</text></g>
<g id="b52" class="b" transform="translate(250,900)"><use href="#S"/><text transform="rotate(-90)" x="-1" y="2">esplanade de la defense</text></g>
<g id="b53" class="b" transform="translate(235,951)"><use href="#S"/><text transform="rotate(-90)" x="-1" y="2">la defense</text></g>
</g>
<g id="legend">
<text class="lg" transform="translate(320,1129) rotate(-90)">c01</text>
<text class="lg" transform="translate(342,1129) rotate(-90)">c02</text>
<text class="lg" transform="translate(364,1129) rotate(-90)">c03</text>
<text class="lg" transform="translate(386,1129) rotate(-90)">c04</text>
<text class="lg" transform="translate(408,1129) rotate(-90)">c05</text>
<g class="r"><use href="#C" x="313" y="1147"/><use href="#C" x="315" y="1153"/><use href="#C" x="313" y="1160"/><use href="#C" x="315" y="1166"/></g>
<g class="y"><use href="#S" x="335" y="1146"/><use href="#S" x="337" y="1152"/><use href="#S" x="335" y="1159"/><use href="#S" x="337" y="1166"/></g>
<g class="g"><use href="#T" x="358" y="1146"/><use href="#T" x="360" y="1152"/><use href="#T" x="358" y="1159"/><use href="#T" x="360" y="1166"/></g>
<g class="c"><use href="#C" x="380" y="1147"/><use href="#C" x="382" y="1153"/><use href="#C" x="380" y="1160"/><use href="#C" x="382" y="1166"/></g>
<g class="b"><use href="#S" x="402" y="1146"/><use href="#S" x="404" y="1152"/><use href="#S" x="402" y="1159"/><use href="#S" x="404" y="1166"/></g>
</g>
</svg>
